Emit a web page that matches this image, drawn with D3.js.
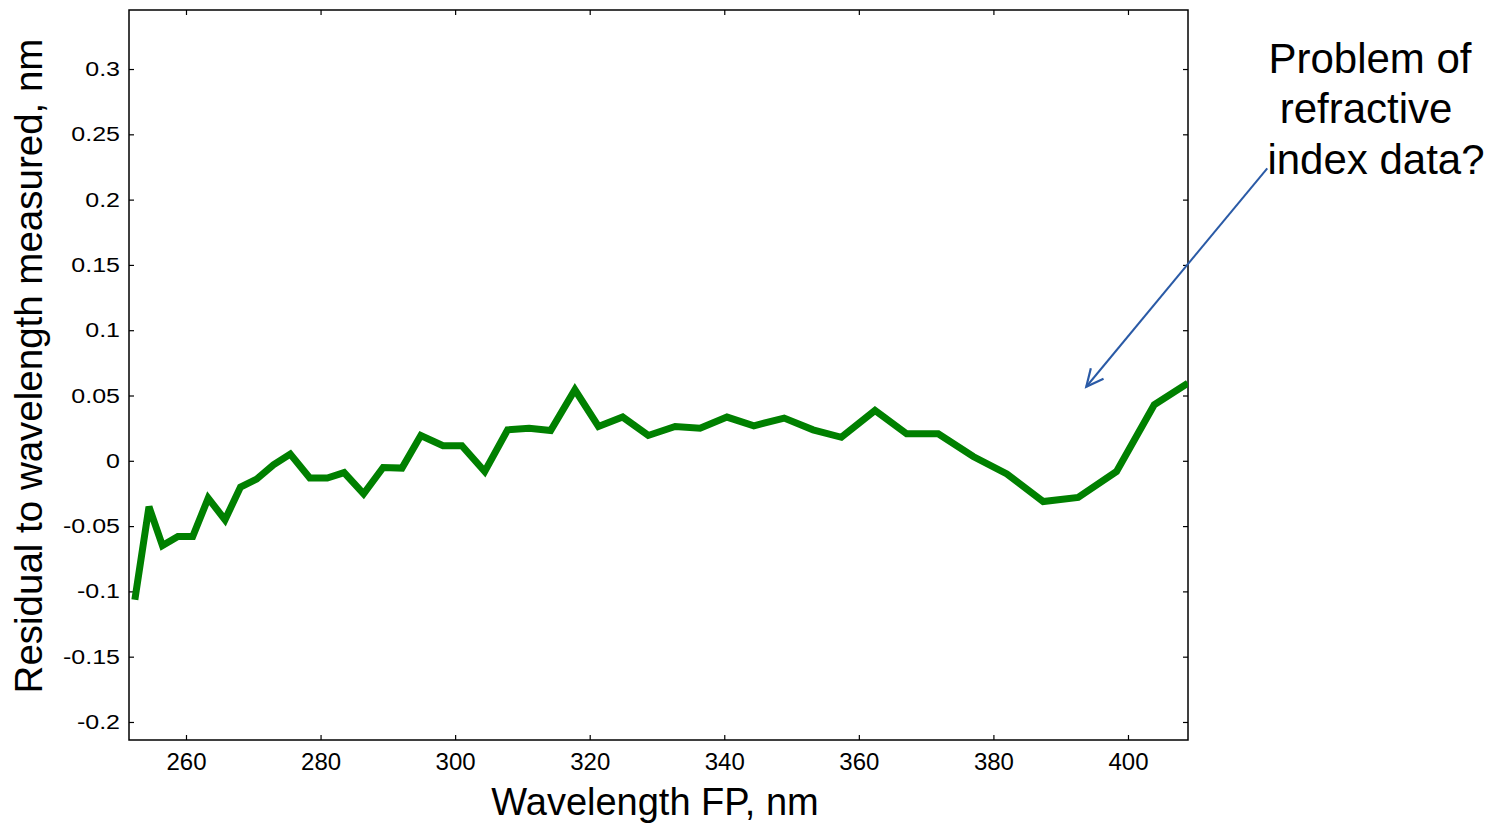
<!DOCTYPE html>
<html>
<head>
<meta charset="utf-8">
<script src="https://cdn.jsdelivr.net/npm/d3@7"></script>
<style>
  html, body { margin: 0; padding: 0; background: #fff; }
  svg { display: block; font-family: "Liberation Sans", Arial, sans-serif; }
</style>
</head>
<body>
<svg id="chart" width="1498" height="823"></svg>
<script>
// ---- data ----
const wavelength = [252.4, 254.5, 256.5, 258.8, 261.0, 263.3, 265.8, 268.1, 270.5, 273.0,
  275.5, 278.4, 281.0, 283.5, 286.4, 289.3, 292.1, 294.9, 298.2, 301.0,
  304.4, 307.8, 311.0, 314.2, 317.8, 321.3, 324.9, 328.7, 332.7, 336.4,
  340.4, 344.4, 348.9, 353.2, 357.4, 362.4, 367.1, 371.8, 377.0, 382.0,
  387.4, 392.6, 398.3, 403.9, 408.9];
const residual = [-0.1064, -0.0352, -0.0649, -0.058, -0.058, -0.0286, -0.0452, -0.0201, -0.014, -0.0031,
  0.0051, -0.0132, -0.0132, -0.009, -0.0253, -0.0051, -0.0056, 0.0194, 0.0115, 0.0115,
  -0.0082, 0.0237, 0.025, 0.0232, 0.0544, 0.0263, 0.0335, 0.0194, 0.0263, 0.025,
  0.0335, 0.0268, 0.0327, 0.0237, 0.018, 0.0385, 0.0207, 0.0207, 0.0033, -0.01,
  -0.0312, -0.0281, -0.0082, 0.0429, 0.0595];
const xTicks = [260, 280, 300, 320, 340, 360, 380, 400];
const yTicks = [-0.2, -0.15, -0.1, -0.05, 0, 0.05, 0.1, 0.15, 0.2, 0.25, 0.3];
const xDomain = [251.53, 408.92];
const yDomain = [-0.2138, 0.3452];
const xTitle = "Wavelength FP, nm";
const yTitle = "Residual to wavelength measured, nm";
const noteLines = ["Problem of", "refractive", "index data?"];
const arrowFrom = [420.7, 0.224];
const arrowTo = [393.8, 0.0567];

// ---- layout ----
const svg = d3.select("#chart");
const L = 129, R = 1188, T = 10, B = 740;
const x = d3.scaleLinear().domain(xDomain).range([L, R]);
const y = d3.scaleLinear().domain(yDomain).range([B, T]);
const tickLen = 5;

svg.append("defs").append("clipPath").attr("id", "plotclip")
  .append("rect").attr("x", L).attr("y", T).attr("width", R - L).attr("height", B - T);

// axes
const fmtY = v => (v === 0 ? "0" : String(v));
const gx = svg.append("g").attr("transform", `translate(0,${B})`)
  .call(d3.axisBottom(x).tickValues(xTicks).tickSizeInner(-tickLen).tickSizeOuter(0).tickPadding(13));
gx.selectAll("text").attr("font-size", 24).attr("fill", "#000").attr("font-family", "Liberation Sans, Arial, sans-serif");

const gxt = svg.append("g").attr("transform", `translate(0,${T})`)
  .call(d3.axisTop(x).tickValues(xTicks).tickSizeInner(-tickLen).tickSizeOuter(0).tickFormat(""));

const gy = svg.append("g").attr("transform", `translate(${L},0)`)
  .call(d3.axisLeft(y).tickValues(yTicks).tickSizeInner(-tickLen).tickSizeOuter(0).tickPadding(9).tickFormat(fmtY));
const stretch = 1.22;
gy.selectAll("text")
  .attr("font-size", 20.5).attr("fill", "#000").attr("font-family", "Liberation Sans, Arial, sans-serif")
  .attr("x", -9 / stretch)
  .attr("transform", `scale(${stretch},1)`);

const gyr = svg.append("g").attr("transform", `translate(${R},0)`)
  .call(d3.axisRight(y).tickValues(yTicks).tickSizeInner(-tickLen).tickSizeOuter(0).tickFormat(""));

[gx, gxt, gy, gyr].forEach(g => {
  g.select(".domain").remove();
  g.selectAll("line").attr("stroke", "#000").attr("stroke-width", 1.2);
});

// box
svg.append("rect").attr("x", L).attr("y", T).attr("width", R - L).attr("height", B - T)
  .attr("fill", "none").attr("stroke", "#000").attr("stroke-width", 1.5);

// data line
const pts = wavelength.map((w, i) => [w, residual[i]]);
svg.append("path")
  .datum(pts)
  .attr("clip-path", "url(#plotclip)")
  .attr("fill", "none")
  .attr("stroke", "#008000")
  .attr("stroke-width", 7)
  .attr("stroke-linejoin", "miter")
  .attr("stroke-linecap", "butt")
  .attr("d", d3.line().x(d => x(d[0])).y(d => y(d[1])));

// axis titles
svg.append("text")
  .attr("x", 655).attr("y", 815)
  .attr("text-anchor", "middle")
  .attr("font-size", 38)
  .attr("fill", "#000")
  .text(xTitle);

svg.append("text")
  .attr("transform", "translate(42,366) rotate(-90)")
  .attr("text-anchor", "middle")
  .attr("font-size", 38.5)
  .attr("fill", "#000")
  .text(yTitle);

// annotation
const noteX = [1370, 1366, 1376];
const noteY = [73, 123, 174];
svg.append("g").selectAll("text").data(noteLines).join("text")
  .attr("x", (d, i) => noteX[i]).attr("y", (d, i) => noteY[i])
  .attr("text-anchor", "middle")
  .attr("font-size", 42)
  .attr("fill", "#000")
  .text(d => d);

const ax0 = x(arrowFrom[0]), ay0 = y(arrowFrom[1]);
const ax1 = x(arrowTo[0]), ay1 = y(arrowTo[1]);
const ang = Math.atan2(ay1 - ay0, ax1 - ax0);
const headLen = 19, headAng = Math.PI / 7;
const h1 = [ax1 - headLen * Math.cos(ang - headAng), ay1 - headLen * Math.sin(ang - headAng)];
const h2 = [ax1 - headLen * Math.cos(ang + headAng), ay1 - headLen * Math.sin(ang + headAng)];
const arrowColor = "#2a5aa6";
svg.append("line").attr("x1", ax0).attr("y1", ay0).attr("x2", ax1).attr("y2", ay1)
  .attr("stroke", arrowColor).attr("stroke-width", 2);
svg.append("path")
  .attr("d", `M${h1[0]},${h1[1]}L${ax1},${ay1}L${h2[0]},${h2[1]}`)
  .attr("fill", "none").attr("stroke", arrowColor).attr("stroke-width", 2.2);
</script>
</body>
</html>
